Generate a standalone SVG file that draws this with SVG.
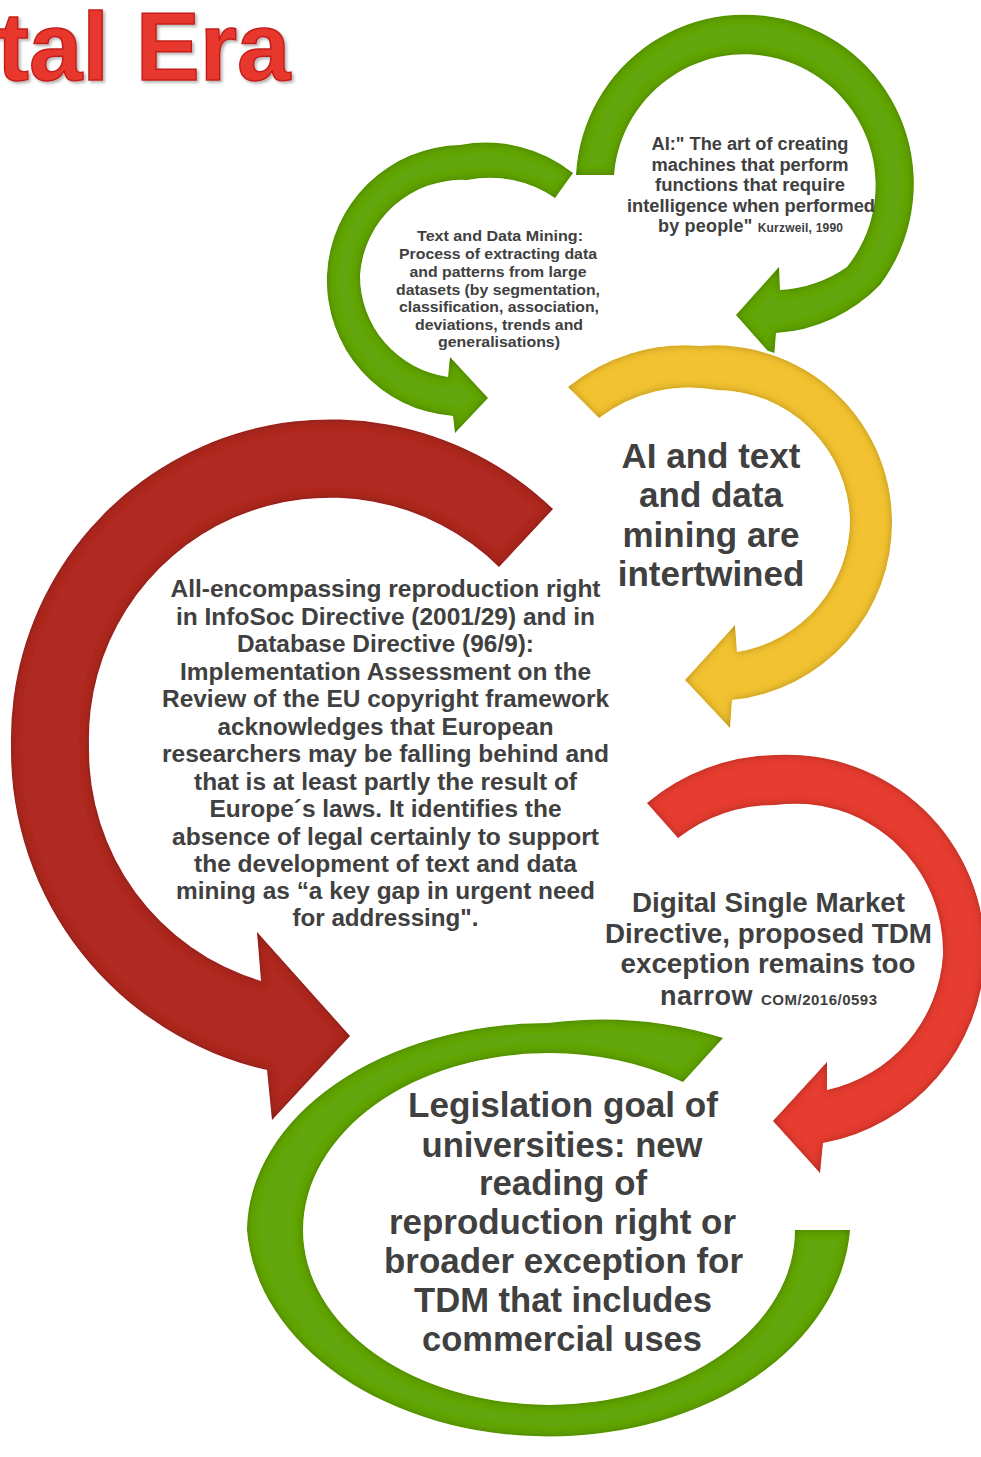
<svg xmlns="http://www.w3.org/2000/svg" xmlns:xlink="http://www.w3.org/1999/xlink" width="981" height="1457" viewBox="0 0 981 1457">
<style>
.halo{fill:#fff;stroke:#fff;stroke-width:5;stroke-linejoin:round}
.green{fill:#62A60B}
.yellow{fill:#F3C232}
.dred{fill:#AF2A24}
.red{fill:#E63D31}
.t{font-family:"Liberation Sans",Arial,sans-serif;font-weight:bold;fill:#404040;text-anchor:middle}
.title{font-family:"Liberation Sans",Arial,sans-serif;font-weight:bold;fill:#E8392F;stroke:#C41F1A;stroke-width:1.5}
</style>
<defs>
<filter id="bev" x="-5%" y="-5%" width="110%" height="110%">
<feGaussianBlur in="SourceAlpha" stdDeviation="4.5" result="b"/>
<feComposite in="SourceAlpha" in2="b" operator="arithmetic" k2="1" k3="-1" result="edge"/>
<feFlood flood-color="#000" flood-opacity="0.55"/>
<feComposite in2="edge" operator="in" result="sh"/>
<feMerge><feMergeNode in="SourceGraphic"/><feMergeNode in="sh"/></feMerge>
</filter>
<filter id="tsh" x="-5%" y="-10%" width="110%" height="130%">
<feDropShadow dx="2" dy="2" stdDeviation="1.5" flood-color="#000" flood-opacity="0.3"/>
</filter>
<path id="pA" d="M 576,175 A 169 169 0 1 1 880,285 A 160 160 0 0 1 776,333 L 774,358 L 736,315 L 779,267 L 780,290 A 130 130 0 0 0 847,267 A 131 131 0 1 0 614,175 Z"/>
<path id="pB" d="M 573,173 A 140 140 0 0 0 460,145 A 136 136 0 0 0 327,275 A 136 136 0 0 0 453,416 L 455,433 L 488,398 L 450,357 L 448,377 A 102 102 0 0 1 360,275 A 102 102 0 0 1 467,180 A 115 115 0 0 1 555,198 Z"/>
<path id="pC" d="M 568,387 A 185 185 0 0 1 700,346 A 177 177 0 0 1 892,520 A 178 178 0 0 1 732,700 L 730,728 L 685,680 L 735,625 L 737,652 A 134 134 0 0 0 850,520 A 134 134 0 0 0 717,390 A 150 150 0 0 0 599,418 Z"/>
<path id="pD" d="M 553,509 A 320 320 0 0 0 11,746 A 328 328 0 0 0 267,1070 L 272,1120 L 350,1036 L 257,932 L 261,981 A 241 241 0 0 1 89,746 A 241 241 0 0 1 499,567 Z"/>
<path id="pE" d="M 647,803 A 205 205 0 0 1 775,755 A 198 198 0 0 1 985,955 A 198 198 0 0 1 823,1143 L 820,1173 L 773,1121 L 827,1062 L 827,1090 A 148 148 0 0 0 943,955 A 148 148 0 0 0 775,805 A 160 160 0 0 0 678,838 Z"/>
<path id="pF" d="M 723,1038 A 300 215 0 0 0 548,1023 A 301 209 0 0 0 247,1230 A 302 219 0 0 0 850,1230 L 795,1230 A 246 175 0 0 1 303,1230 A 246 177 0 0 1 549,1053 A 246 175 0 0 1 683,1082 Z"/>
</defs>
<rect width="981" height="1457" fill="#fff"/>

<g id="title">
<text class="title" x="-3" y="80" font-size="96" filter="url(#tsh)">tal Era</text>
</g>

<g id="node-ai">
<use href="#pA" class="halo"/>
<use href="#pA" class="green" filter="url(#bev)"/>
</g>

<g id="node-tdm">
<use href="#pB" class="halo"/>
<use href="#pB" class="green" filter="url(#bev)"/>
</g>

<g id="node-intertwined">
<use href="#pC" class="halo"/>
<use href="#pC" class="yellow" filter="url(#bev)"/>
</g>

<g id="node-reproduction">
<use href="#pD" class="halo"/>
<use href="#pD" class="dred" filter="url(#bev)"/>
</g>

<g id="node-dsm">
<use href="#pE" class="halo"/>
<use href="#pE" class="red" filter="url(#bev)"/>
</g>

<g id="node-legislation">
<use href="#pF" class="halo"/>
<use href="#pF" class="green" filter="url(#bev)"/>
</g>

<g id="connectors"/>

<g id="labels">
<g id="label-ai" font-size="18">
<text class="t" x="750" y="150" textLength="197" lengthAdjust="spacingAndGlyphs">AI:" The art of creating</text>
<text class="t" x="750" y="171" textLength="197" lengthAdjust="spacingAndGlyphs">machines that perform</text>
<text class="t" x="750" y="191" textLength="190" lengthAdjust="spacingAndGlyphs">functions that require</text>
<text class="t" x="751" y="212" textLength="248" lengthAdjust="spacingAndGlyphs">intelligence when performed</text>
<text class="t" x="750.5" y="232" textLength="185" lengthAdjust="spacing">by people" <tspan font-size="12">Kurzweil, 1990</tspan></text>
</g>
<g id="label-tdm" font-size="15.5">
<text class="t" x="500" y="241" textLength="166" lengthAdjust="spacingAndGlyphs">Text and Data Mining:</text>
<text class="t" x="498" y="259" textLength="198" lengthAdjust="spacingAndGlyphs">Process of extracting data</text>
<text class="t" x="498" y="277" textLength="177" lengthAdjust="spacingAndGlyphs">and patterns from large</text>
<text class="t" x="498" y="295" textLength="204" lengthAdjust="spacingAndGlyphs">datasets (by segmentation,</text>
<text class="t" x="499" y="312" textLength="200" lengthAdjust="spacingAndGlyphs">classification, association,</text>
<text class="t" x="499" y="330" textLength="168" lengthAdjust="spacingAndGlyphs">deviations, trends and</text>
<text class="t" x="499" y="347" textLength="122" lengthAdjust="spacingAndGlyphs">generalisations)</text>
</g>
<g id="label-intertwined" font-size="35">
<text class="t" x="711" y="468">AI and text</text>
<text class="t" x="711" y="507">and data</text>
<text class="t" x="711" y="547">mining are</text>
<text class="t" x="711" y="586">intertwined</text>
</g>
<g id="label-reproduction" font-size="24.4">
<text class="t" x="385.5" y="597" textLength="430" lengthAdjust="spacingAndGlyphs">All-encompassing reproduction right</text>
<text class="t" x="385.5" y="625" textLength="419" lengthAdjust="spacingAndGlyphs">in InfoSoc Directive (2001/29) and in</text>
<text class="t" x="385.5" y="652" textLength="297" lengthAdjust="spacingAndGlyphs">Database Directive (96/9):</text>
<text class="t" x="385.5" y="680" textLength="411" lengthAdjust="spacingAndGlyphs">Implementation Assessment on the</text>
<text class="t" x="385.5" y="707" textLength="447" lengthAdjust="spacingAndGlyphs">Review of the EU copyright framework</text>
<text class="t" x="385.5" y="735" textLength="336" lengthAdjust="spacingAndGlyphs">acknowledges that European</text>
<text class="t" x="385.5" y="762" textLength="447" lengthAdjust="spacingAndGlyphs">researchers may be falling behind and</text>
<text class="t" x="385.5" y="790" textLength="383" lengthAdjust="spacingAndGlyphs">that is at least partly the result of</text>
<text class="t" x="385.5" y="817" textLength="352" lengthAdjust="spacingAndGlyphs">Europe´s laws. It identifies the</text>
<text class="t" x="385.5" y="845" textLength="427" lengthAdjust="spacingAndGlyphs">absence of legal certainly to support</text>
<text class="t" x="385.5" y="872" textLength="383" lengthAdjust="spacingAndGlyphs">the development of text and data</text>
<text class="t" x="385.5" y="899" textLength="419" lengthAdjust="spacingAndGlyphs">mining as “a key gap in urgent need</text>
<text class="t" x="385.5" y="926" textLength="186" lengthAdjust="spacingAndGlyphs">for addressing".</text>
</g>
<g id="label-dsm" font-size="27">
<text class="t" x="768.5" y="912" textLength="273" lengthAdjust="spacingAndGlyphs">Digital Single Market</text>
<text class="t" x="768.5" y="943" textLength="327" lengthAdjust="spacingAndGlyphs">Directive, proposed TDM</text>
<text class="t" x="768" y="973" textLength="295" lengthAdjust="spacingAndGlyphs">exception remains too</text>
<text class="t" x="768.5" y="1005" textLength="217" lengthAdjust="spacing">narrow <tspan font-size="15">COM/2016/0593</tspan></text>
</g>
<g id="label-legislation" font-size="35">
<text class="t" x="563" y="1117" textLength="310" lengthAdjust="spacingAndGlyphs">Legislation goal of</text>
<text class="t" x="562" y="1157" textLength="281" lengthAdjust="spacingAndGlyphs">universities: new</text>
<text class="t" x="563" y="1195" textLength="168" lengthAdjust="spacingAndGlyphs">reading of</text>
<text class="t" x="562.5" y="1234" textLength="347" lengthAdjust="spacingAndGlyphs">reproduction right or</text>
<text class="t" x="563.5" y="1273" textLength="359" lengthAdjust="spacingAndGlyphs">broader exception for</text>
<text class="t" x="563" y="1312" textLength="298" lengthAdjust="spacingAndGlyphs">TDM that includes</text>
<text class="t" x="562" y="1351" textLength="280" lengthAdjust="spacingAndGlyphs">commercial uses</text>
</g>
</g>
</svg>
